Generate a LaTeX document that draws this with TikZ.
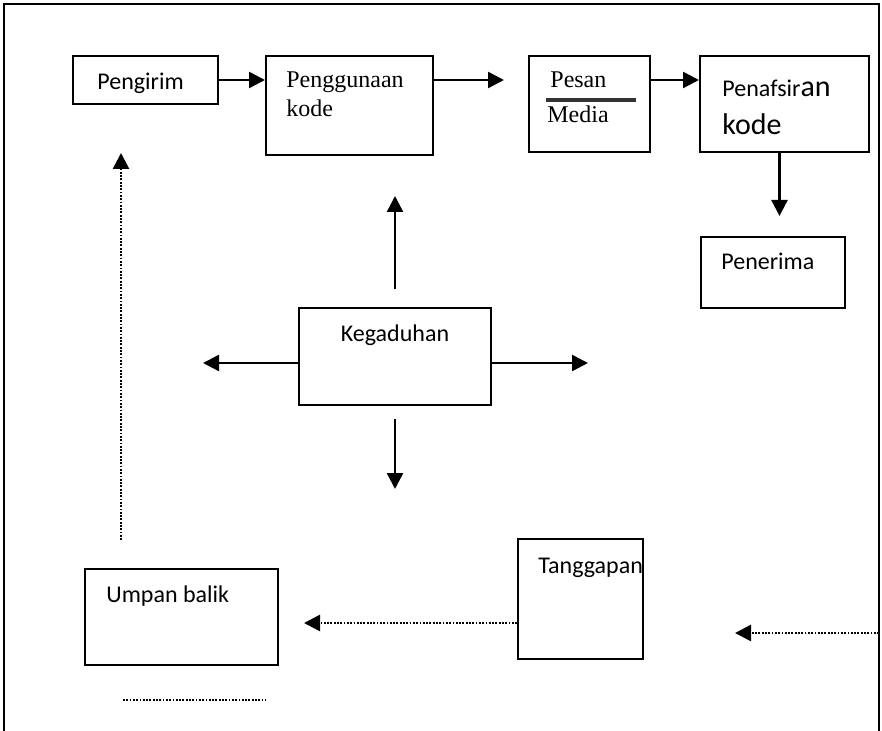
\documentclass[tikz,border=0pt]{standalone}
\usepackage{fontspec}
\setmainfont{Carlito}
\newfontfamily\serifface{Liberation Serif}
\usetikzlibrary{arrows.meta, fit, calc}
\tikzset{
  box/.style    = {rectangle, draw, line width=1pt, inner sep=0pt},
  txt/.style    = {anchor=base west, inner sep=0pt, font=\fontsize{12}{14}\selectfont},
  sertxt/.style = {txt, font=\serifface\fontsize{12}{14}\selectfont},
  bigtxt/.style = {txt, font=\fontsize{15}{18}\selectfont},
  flow/.style   = {-{Triangle[length=8pt,width=8pt]}, line width=1.2pt},
  fb/.style     = {line width=1.25pt, dash pattern=on 0.9pt off 0.75pt},
  fbflow/.style = {fb, -{Triangle[length=8pt,width=8pt]}},
}

\begin{document}
\begin{tikzpicture}[x=0.5pt, y=-0.5pt]
  \useasboundingbox (0,0) rectangle (882,731);
  \draw[line width=1pt] (4,731) -- (4,4) -- (879,4) -- (879,731);

  % boxes
  \node[box, fit={(73,56) (218,104)}] (send) {};
  \node[box, fit={(266,56) (433,155)}] (enc) {};
  \node[box, fit={(529,56) (650,152)}] (msg) {};
  \node[box, fit={(700,56) (869,152)}] (dec) {};
  \node[box, fit={(701,237) (845,308)}] (recv) {};
  \node[box, fit={(299,308) (491,405)}] (noise) {};
  \node[box, fit={(85,569) (278,665)}] (fbk) {};
  \node[box, fit={(518,539) (643,659)}] (resp) {};

  % texts
  \node[txt] (sendtxt) at (97,90) {Pengirim};
  \node[sertxt] (enctxt) at (286,88) {Penggunaan};
  \node[sertxt] (enctxtb) at (286,117) {kode};
  \node[sertxt] (msgtxt) at (550,88) {Pesan};
  \node[sertxt] (msgtxtb) at (547,123) {Media};
  \draw[line width=1.6pt, black!80] (546,100) -- (636,100);
  \node[txt] (dectxt) at (722,97) {Penafsir{\fontsize{15}{18}\selectfont an}};
  \node[bigtxt] (dectxtb) at (722,135) {kode};
  \node[txt] (recvtxt) at (721,270) {Penerima};
  \node[txt, anchor=base] (noisetxt) at (395,342) {Kegaduhan};
  \node[txt] (fbktxt) at (106,602) {Umpan balik};
  \node[txt] (resptxt) at (538,573) {Tanggapan};

  % main flow
  \draw[flow] (send.east) -- (send.east -| enc.west);
  \draw[flow, shorten >=12pt] (send.east -| enc.east) -- (send.east -| msg.west);
  \draw[flow] (send.east -| msg.east) -- (send.east -| dec.west);
  \draw[flow, shorten >=10pt] ([xshift=-2.5pt]dec.south) -- ([xshift=-2.5pt]dec.south |- recv.north);

  % noise
  \draw[flow, shorten <=9pt, shorten >=20pt] (noise.north) -- (noise.north |- enc.south);
  \draw[flow, shorten <=6.5pt] (noise.south) -- ++(0,83);
  \draw[flow] ([yshift=-3.25pt]noise.west) -- ++(-95,0);
  \draw[flow] ([yshift=-3.25pt]noise.east) -- ++(96,0);

  % feedback
  \coordinate (edge) at (879,633);
  \coordinate (dl) at (123,700);
  \coordinate (dr) at (266,700);
  \draw[fbflow, shorten <=14pt, shorten >=24pt] (fbk.north -| 121,0) -- (send.south -| 121,0);
  \draw[fbflow, shorten >=12.5pt] (resp.west |- 0,623) -- (fbk.east |- 0,623);
  \draw[fbflow, shorten >=45.5pt] (edge) -- (edge -| resp.east);
  \draw[fb] (dl) -- (dr);
\end{tikzpicture}
\end{document}
